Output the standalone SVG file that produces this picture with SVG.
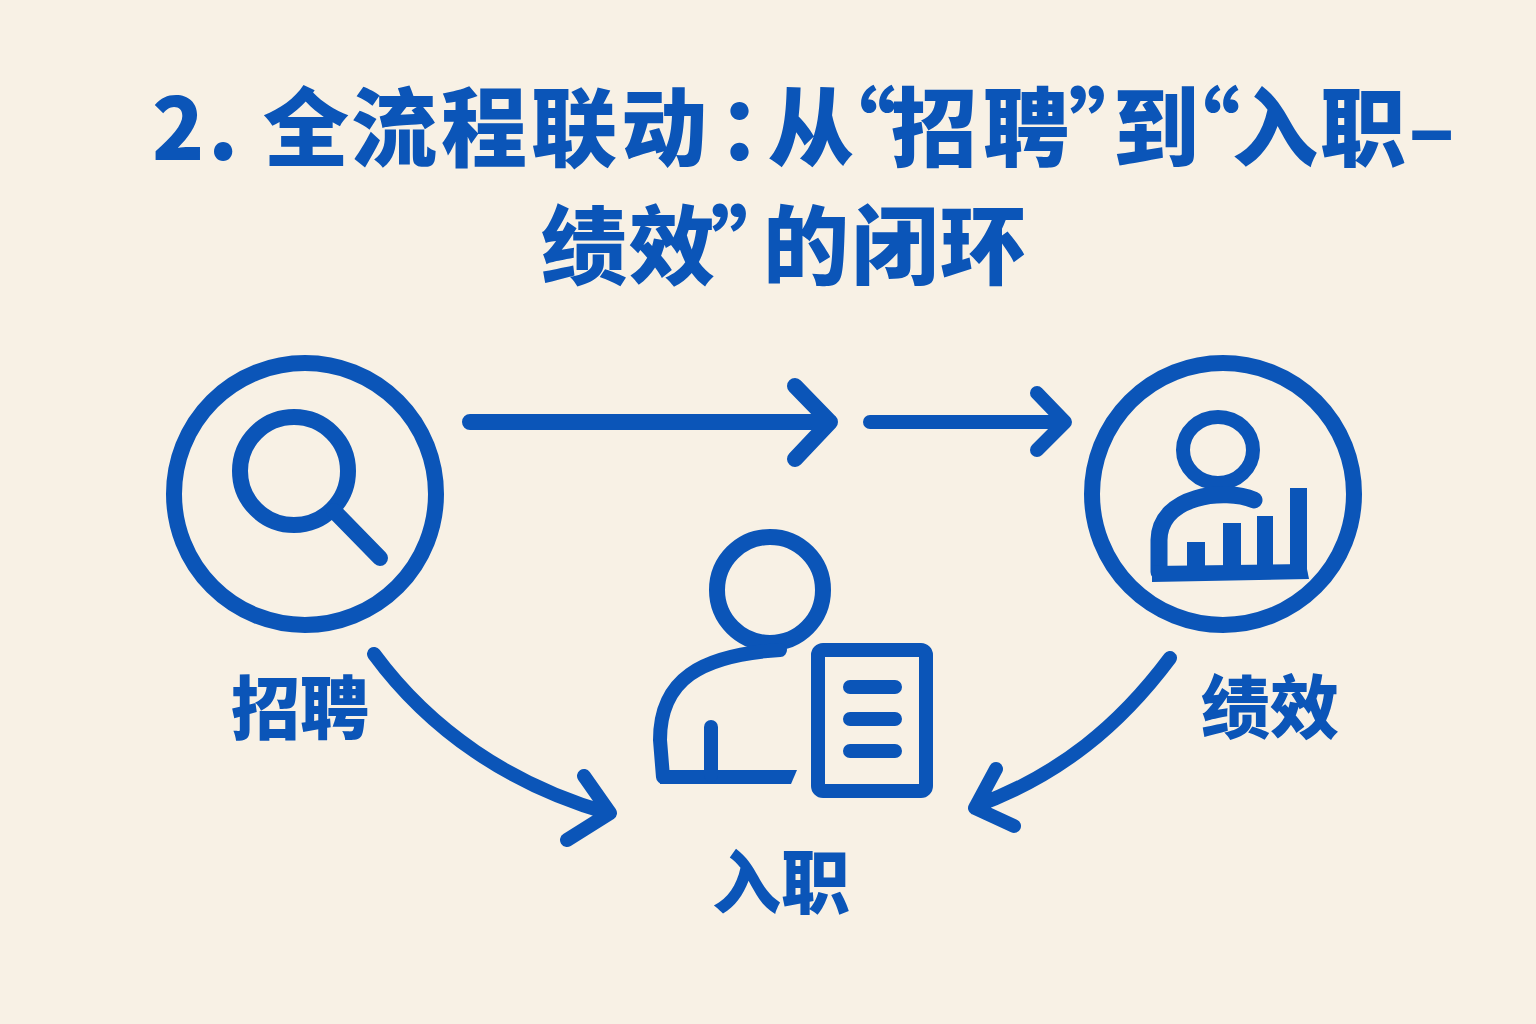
<svg xmlns="http://www.w3.org/2000/svg" width="1536" height="1024" viewBox="0 0 1536 1024">
<style>
.t{font-family:"Noto Sans CJK SC","Liberation Sans",sans-serif;font-weight:900;fill:#0B55B8}
.s{fill:none;stroke:#0B55B8;stroke-linecap:round;stroke-linejoin:round}
.f{fill:#0B55B8}
.w16{stroke-width:16}
.w14{stroke-width:14}
.h{font-size:86px}
.l{font-size:69px}
</style>
<rect width="1536" height="1024" fill="#F8F1E5"/>
<g id="title">
<text class="t h" y="160" x="152 208 240 263 351 441 531 621 718 768 810 891 983 1069 1113 1154 1232 1320 1408">2. 全流程联动：从“招聘”到“入职–</text>
<text class="t h" y="278" x="541 629 711 763 852 940">绩效”的闭环</text>
</g>
<g id="connectors">
<path class="s w16" d="M470 422H830M795 386L830 422L795 459"/>
<path class="s w14" d="M870 422H1064M1037 393L1065 422L1037 450"/>
<path class="s w14" d="M374 654C430 730 510 785 608 813M584 776L610 813L567 840"/>
<path class="s w14" d="M1170 658C1120 725 1060 775 976 806M996 769L975 808L1014 826"/>
</g>
<g id="recruit">
<circle class="s w16" cx="305" cy="494" r="131"/>
<circle class="s w16" cx="294" cy="471" r="54"/>
<path class="s w16" d="M334 511L380 558"/>
<text class="t l" x="231" y="734">招聘</text>
</g>
<g id="performance">
<circle class="s w16" cx="1223" cy="494" r="131"/>
<ellipse class="s w14" cx="1218" cy="450" rx="35" ry="33"/>
<path class="s" style="stroke-width:17" d="M1254 500C1225 488 1160 495 1159 540V572"/>
<path class="f" d="M1152 566L1306 564L1309 579L1152 582Z"/>
<path class="f" d="M1187 542H1205V570H1187ZM1223 523H1241V570H1223ZM1257 516H1273V570H1257ZM1290 488H1307V570H1290Z"/>
<text class="t l" x="1201" y="733">绩效</text>
</g>
<g id="onboard">
<circle class="s w16" cx="770" cy="590" r="53"/>
<path class="s w14" d="M780 650C700 655 660 680 660 740L663 777"/>
<path class="f" d="M657 770H797L791 784H660Z"/>
<path class="s w14" d="M711 727V775"/>
<rect class="s w14" x="818" y="650" width="108" height="141" rx="5"/>
<path class="s w14" d="M850 687H895M850 719H895M850 751H895"/>
<text class="t l" x="712" y="908">入职</text>
</g>
</svg>
